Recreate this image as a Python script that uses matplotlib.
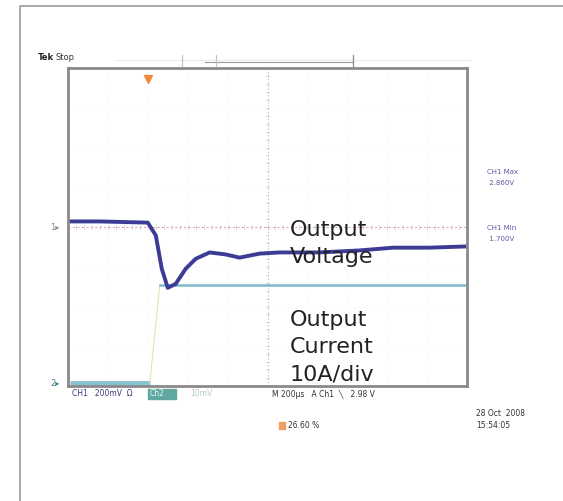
import matplotlib
matplotlib.use("Agg")
import matplotlib.pyplot as plt
from matplotlib.lines import Line2D
from matplotlib.patches import Rectangle

W, H = 563, 501

# scope trace samples: time in us (200 us/div, 0 = screen centre), level in divisions
ch1_time = [-990, -840, -600, -560, -530, -500, -460, -410, -360, -290,
            -210, -140, -40, 60, 260, 460, 630, 810, 990]
ch1_div = [0.14, 0.14, 0.11, -0.21, -1.05, -1.53, -1.43, -1.05, -0.80, -0.64,
           -0.69, -0.77, -0.67, -0.64, -0.64, -0.59, -0.52, -0.52, -0.49]
ch2_time = [-990, -590, -540, 990]
ch2_div = [-3.93, -3.93, -1.45, -1.45]

trigger_time = -600
status_left = "CH1   200mV  \u03a9"
status_mid = "M 200\u00b5s   A Ch1  \u2572   2.98 V"
right_labels = [("CH1 Max", " 2.860V"), ("CH1 Min", " 1.700V")]
date_lines = ["28 Oct  2008", "15:54:05"]
cursor_text = "26.60 %"


def fx(x):
    return x / W


def fy(y):
    return 1 - y / H


fig = plt.figure(figsize=(W / 100, H / 100), dpi=100)
fig.patch.set_facecolor("white")

# outer frame (left + top edges)
fig.add_artist(Line2D([fx(20), fx(20), fx(W)], [fy(H), fy(6), fy(6)],
                      transform=fig.transFigure, color="#a8a8a8", lw=1.4))

ax = fig.add_axes([fx(68), fy(386), fx(467) - fx(68), fy(68) - fy(386)])
ax.set_xlim(-1000, 1000)
ax.set_ylim(-4, 4)
ax.set_xticks([])
ax.set_yticks([])
for s in ax.spines.values():
    s.set_color("#8a8a8a")
    s.set_linewidth(2)

# graticule: faint dotted grid and centre cross with ticks
for gx in range(-800, 1000, 200):
    if gx != 0:
        ax.axvline(gx, color="#efefef", lw=0.6, ls=(0, (1, 3)))
for gy in range(-3, 4):
    if gy != 0:
        ax.axhline(gy, color="#efefef", lw=0.6, ls=(0, (1, 3)))
ax.axvline(0, color="#b8b8b8", lw=0.8, ls=(0, (1, 2)))
ax.axhline(0, color="#d9a8a8", lw=0.8, ls=(0, (2, 2)))
for k in range(-25, 26):
    t = k * 40
    ax.plot([t, t], [-0.06, 0.06], color="#c8c8c8", lw=0.5)
for k in range(-20, 21):
    v = k * 0.2
    ax.plot([-8, 8], [v, v], color="#c8c8c8", lw=0.5)

# traces
ax.plot(ch2_time[:2], ch2_div[:2], color="#86c3cf", lw=3.5, solid_capstyle="butt")
ax.plot(ch2_time[1:3], ch2_div[1:3], color="#e8e2b0", lw=0.8)
ax.plot(ch2_time[2:], ch2_div[2:], color="#7db9cc", lw=1.8)
ax.plot(ch1_time, ch1_div, color="#3c3c96", lw=2.8, solid_joinstyle="round")

# trigger position marker
ax.plot([trigger_time], [3.72], marker="v", color="#f08a3c", ms=6, clip_on=False)

# annotations
ax.text(112, -0.42, "Output\nVoltage", fontsize=16, color="#222222",
        va="center", ha="left", linespacing=1.45, family="DejaVu Sans")
ax.text(112, -3.02, "Output\nCurrent\n10A/div", fontsize=16, color="#222222",
        va="center", ha="left", linespacing=1.45, family="DejaVu Sans")

# top status bar
fig.text(fx(38), fy(58), "Tek", fontsize=6, weight="bold", va="center", color="#222222")
fig.text(fx(56), fy(58), "Stop", fontsize=6, va="center", color="#333333")
fig.add_artist(Line2D([fx(115), fx(470)], [fy(60), fy(60)],
                      transform=fig.transFigure, color="#ececec", lw=0.8))
fig.add_artist(Line2D([fx(205), fx(352)], [fy(62), fy(62)],
                      transform=fig.transFigure, color="#9c9c9c", lw=0.8))
for mx, col in ((182, "#c4c4c4"), (216, "#c4c4c4"), (353, "#8a8a8a")):
    fig.add_artist(Line2D([fx(mx), fx(mx)], [fy(55), fy(66)],
                          transform=fig.transFigure, color=col, lw=0.9))

# channel ground markers
fig.text(fx(50), fy(228), "1\u25b8", fontsize=6, va="center", color="#8a8a8a")
fig.text(fx(50), fy(383), "2\u25b8", fontsize=6, va="center", color="#3d7f86")

# bottom status line
fig.text(fx(72), fy(394), status_left, fontsize=5.5, va="center", color="#3a3a7a")
fig.add_artist(Rectangle((fx(148), fy(399)), fx(28), fy(389) - fy(399),
                         transform=fig.transFigure, color="#5fa8a0"))
fig.text(fx(150), fy(394), "Ch2", fontsize=5.5, va="center", color="#e8f4f2")
fig.text(fx(190), fy(394), "10mV", fontsize=5.5, va="center", color="#b8c8c8")
fig.text(fx(272), fy(394), status_mid, fontsize=5.5, va="center", color="#333333")

# cursor readout
fig.add_artist(Rectangle((fx(279), fy(429)), fx(6), fy(422) - fy(429),
                         transform=fig.transFigure, color="#f0a060"))
fig.text(fx(288), fy(425), cursor_text, fontsize=5.5, va="center", color="#333333")

# right side measurements
for (l1, l2), yy in zip(right_labels, (172, 228)):
    fig.text(fx(487), fy(yy), l1, fontsize=5, va="center", color="#5a5aa6")
    fig.text(fx(487), fy(yy + 11), l2, fontsize=5, va="center", color="#5a5aa6")

fig.text(fx(476), fy(413), date_lines[0], fontsize=5.5, va="center", color="#333333")
fig.text(fx(476), fy(425), date_lines[1], fontsize=5.5, va="center", color="#333333")

fig.savefig("out.png", dpi=100)
